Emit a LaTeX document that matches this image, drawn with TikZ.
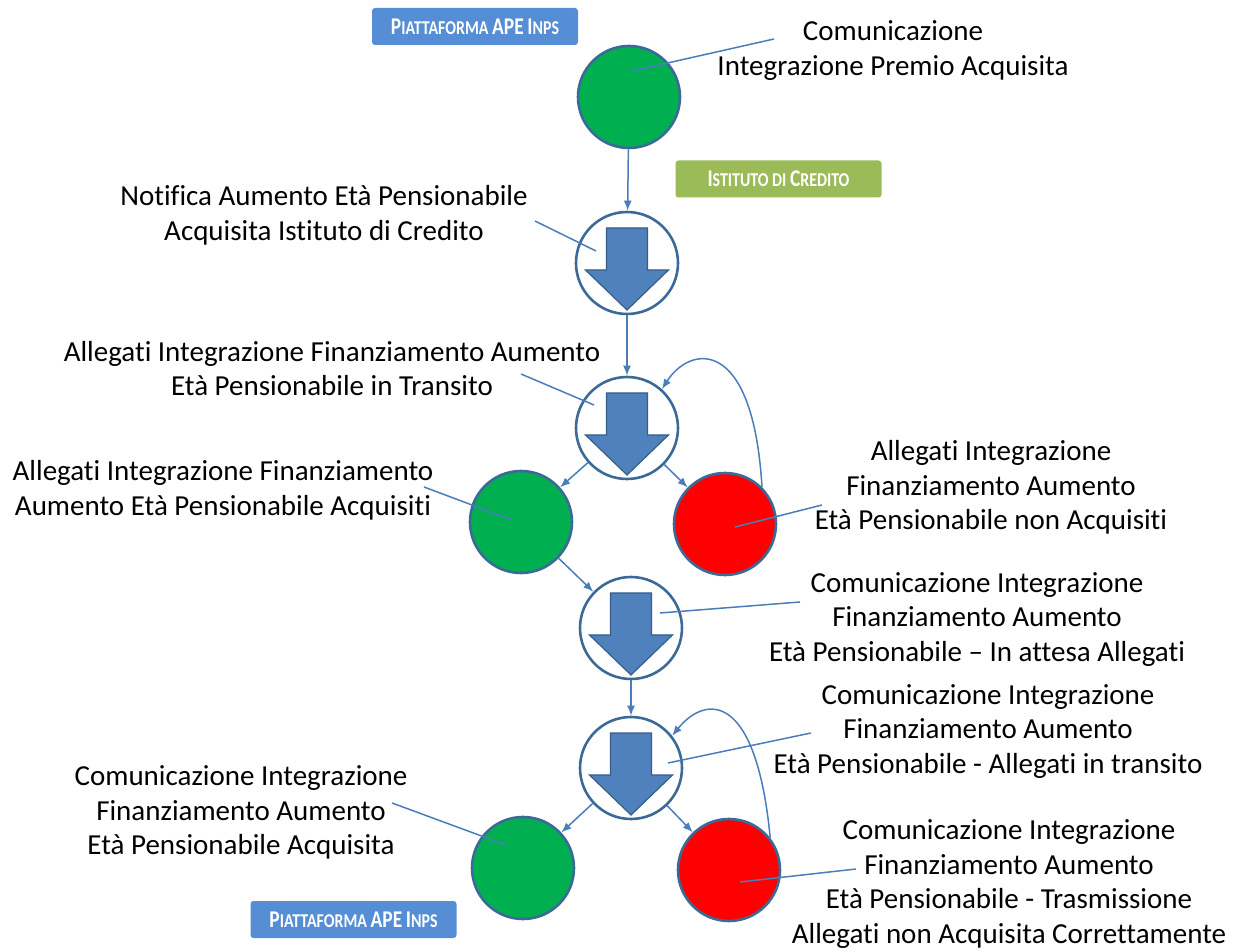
\documentclass[tikz,border=0pt]{standalone}
\usepackage{fontspec}
\setmainfont{Carlito}[Ligatures=NoCommon]
\usetikzlibrary{arrows.meta}
\definecolor{apeblue}{HTML}{558ED5}
\definecolor{creditgreen}{HTML}{9BBB59}
\definecolor{okgreen}{HTML}{00B050}
\definecolor{kored}{HTML}{FF0000}
\definecolor{ringblue}{HTML}{3C6A98}
\definecolor{arrowblue}{HTML}{4F81BD}
\definecolor{arrowedge}{HTML}{385D8A}
\definecolor{linkblue}{HTML}{4A7EBB}
\newcommand{\hdrcap}[2]{{\fontsize{12}{14}\selectfont #1}{\fontsize{9.8}{14}\selectfont #2}}
\newcommand{\hdrtext}[1]{\scalebox{0.81}[1]{#1}}

\tikzset{
  state/.style={circle, draw=ringblue, line width=1.3pt, minimum size=51pt, inner sep=0pt},
  okstate/.style={state, fill=okgreen},
  kostate/.style={state, fill=kored},
  waitstate/.style={state, fill=white, path picture={
    \filldraw[fill=arrowblue, draw=arrowedge, line width=0.6pt, shift={(path picture bounding box.center)}]
      (-10.25pt,17.5pt) -- (10.25pt,17.5pt) -- (10.25pt,-3.5pt) -- (20.75pt,-3.5pt)
      -- (0pt,-23.5pt) -- (-20.75pt,-3.5pt) -- (-10.25pt,-3.5pt) -- cycle;}},
  tag/.style={text=white, font=\bfseries, minimum width=103pt, minimum height=18.5pt, inner sep=0pt, rounded corners=1.5pt},
  note/.style={align=center, font=\fontsize{14.5}{17.3}\selectfont, inner sep=0pt},
  link/.style={linkblue, line width=0.75pt, -{Latex[length=5pt,width=4pt]}},
  leader/.style={linkblue, line width=0.75pt}
}

\begin{document}
\begin{tikzpicture}[x=0.5pt,y=-0.5pt]
  \useasboundingbox (0,0) rectangle (1239,952);
  \node[tag, fill=apeblue] (apetop) at (475,26.5) {\hdrtext{\hdrcap{P}{IATTAFORMA} \hdrcap{APE}{} \hdrcap{I}{NPS}}};
  \node[tag, fill=creditgreen] (credito) at (778.5,179) {\hdrtext{\hdrcap{I}{STITUTO DI} \hdrcap{C}{REDITO}}};
  \node[tag, fill=apeblue] (apebot) at (353.5,919.5) {\hdrtext{\hdrcap{P}{IATTAFORMA} \hdrcap{APE}{} \hdrcap{I}{NPS}}};

  \node[okstate] (acq) at (629,97) {};
  \node[waitstate] (notif) at (627,263) {};
  \node[waitstate] (trans) at (627,428) {};
  \node[okstate] (allok) at (521,522) {};
  \node[kostate] (allko) at (725,524) {};
  \node[waitstate] (attesa) at (631,628) {};
  \node[waitstate] (intrans) at (631,768) {};
  \node[okstate] (comok) at (523,868) {};
  \node[kostate] (comko) at (729,870) {};

  \node[note] (t1) at (893,50.5) {Comunicazione\\Integrazione Premio Acquisita};
  \node[note] (t2) at (324,215.5) {Notifica Aumento Età Pensionabile\\Acquisita Istituto di Credito};
  \node[note] (t3) at (332,368.5) {Allegati Integrazione Finanziamento Aumento\\Età Pensionabile in Transito};
  \node[note] (t4) at (223,490.5) {Allegati Integrazione Finanziamento\\Aumento Età Pensionabile Acquisiti};
  \node[note] (t5) at (991,487.5) {Allegati Integrazione\\Finanziamento Aumento\\Età Pensionabile non Acquisiti};
  \node[note] (t6) at (977,619.5) {Comunicazione Integrazione\\Finanziamento Aumento\\Età Pensionabile – In attesa Allegati};
  \node[note] (t7) at (988,731.5) {Comunicazione Integrazione\\Finanziamento Aumento\\Età Pensionabile - Allegati in transito};
  \node[note] (t8) at (241,812.5) {Comunicazione Integrazione\\Finanziamento Aumento\\Età Pensionabile Acquisita};
  \node[note] (t9) at (1009,884) {Comunicazione Integrazione\\Finanziamento Aumento\\Età Pensionabile - Trasmissione\\Allegati non Acquisita Correttamente};

  \coordinate (p1) at (632,71);  \coordinate (q1) at (774,39);
  \coordinate (p2) at (596,251); \coordinate (q2) at (535,221);
  \coordinate (p3) at (594,405); \coordinate (q3) at (521,374);
  \coordinate (p4) at (512,520); \coordinate (q4) at (424,487);
  \coordinate (p5) at (735,527); \coordinate (q5) at (822,505);
  \coordinate (p6) at (660,613); \coordinate (q6) at (800,602);
  \coordinate (p7) at (668,763); \coordinate (q7) at (811,733);
  \coordinate (p8) at (506,845); \coordinate (q8) at (392,803);
  \coordinate (p9) at (740,882); \coordinate (q9) at (856,869);
  \foreach \i in {1,...,9} \draw[leader] (p\i) -- (q\i);

  \draw[link] (acq) -- (notif);
  \draw[link] (notif) -- (trans);
  \draw[link] (trans) -- (allok);
  \draw[link] (trans) -- (allko);
  \draw[link] (allok) -- (attesa);
  \draw[link] (attesa) -- (intrans);
  \draw[link] (intrans) -- (comok);
  \draw[link] (intrans) -- (comko);
  \draw[link] (allko.45) .. controls (753,335) and (690,345) .. (trans.48);
  \draw[link] (comko.38) .. controls (756,690) and (705,695) .. (intrans.38);
\end{tikzpicture}
\end{document}
